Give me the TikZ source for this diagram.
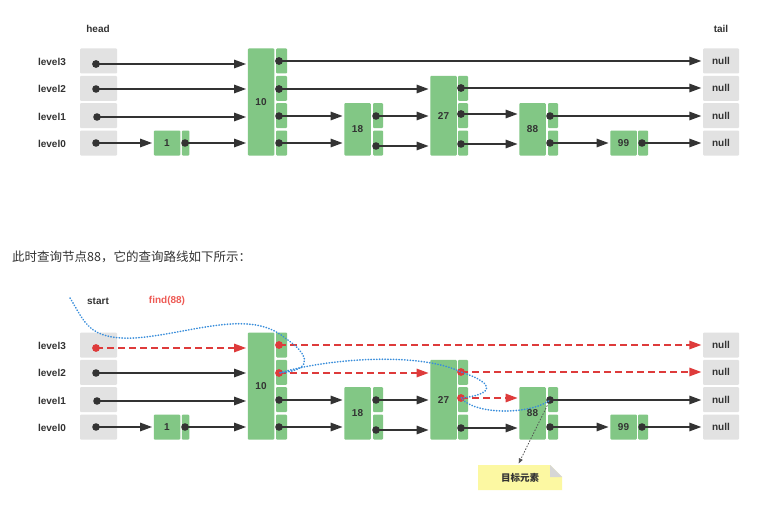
\documentclass[tikz,border=0pt]{standalone}
\usepackage{fontspec}
\setmainfont{Liberation Sans}
\newfontfamily\cjk{Noto Sans CJK SC}
\usetikzlibrary{arrows.meta}
\definecolor{grn}{HTML}{82C785}
\definecolor{gry}{HTML}{E2E2E2}
\definecolor{ink}{HTML}{333333}
\definecolor{redA}{HTML}{DE3B3B}
\definecolor{redT}{HTML}{EE5B55}
\definecolor{bluA}{HTML}{3A8EDB}
\definecolor{yelA}{HTML}{FCF8A2}
\definecolor{foldA}{HTML}{D6D6D6}
\tikzset{
  x=1pt, y=-1pt,
  base/.style={inner sep=0pt, rounded corners=1pt, font=\bfseries\fontsize{10}{12}\selectfont, text=ink},
  hdbox/.style={base, fill=gry, minimum width=37pt, minimum height=25pt},
  nullbox/.style={base, fill=gry, minimum width=36pt, minimum height=25pt},
  mainbox/.style={base, fill=grn, minimum width=26.5pt},
  sidebox/.style={base, fill=grn, minimum height=25pt},
  lvl/.style={font=\bfseries\fontsize{10}{12}\selectfont, text=ink, inner sep=0pt},
  tip/.style={-{Triangle[length=12pt,width=8.5pt]}},
  blackptr/.style={draw=ink, line width=1.5pt, tip, shorten >=1.5pt},
  redptr/.style={draw=redA, line width=1.5pt, dash pattern=on 7pt off 4pt, tip, shorten >=1.5pt},
  blackdot/.style={fill=ink},
  reddot/.style={fill=redA},
}
% rows: r3=61, r2=88.3, r1=115.7, r0=143
\newcommand\skiplist{%
  \node[lvl] (l3) at (52,62) {level3};
  \node[lvl] (l2) at (52,89) {level2};
  \node[lvl] (l1) at (52,117) {level1};
  \node[lvl] (l0) at (52,144) {level0};
  \node[hdbox] (hb3) at (98.5,61) {};
  \node[hdbox] (hb2) at (98.5,88.3) {};
  \node[hdbox] (hb1) at (98.5,115.7) {};
  \node[hdbox] (hb0) at (98.5,143) {};
  \node[nullbox] (n3) at (721,61) {null};
  \node[nullbox] (n2) at (721,88.3) {null};
  \node[nullbox] (n1) at (721,115.7) {null};
  \node[nullbox] (n0) at (721,143) {null};
  % node 1
  \node[mainbox, minimum height=25pt] (v1) at (167,143) {1};
  \node[sidebox, minimum width=7.5pt] (s1-0) at (185.5,143) {};
  % node 10
  \node[mainbox, minimum height=107pt] (v10) at (261,102) {10};
  \node[sidebox, minimum width=11pt] (s10-3) at (281.5,61) {};
  \node[sidebox, minimum width=11pt] (s10-2) at (281.5,88.3) {};
  \node[sidebox, minimum width=11pt] (s10-1) at (281.5,115.7) {};
  \node[sidebox, minimum width=11pt] (s10-0) at (281.5,143) {};
  % node 18
  \node[mainbox, minimum height=52.3pt] (v18) at (357.5,129.35) {18};
  \node[sidebox, minimum width=10pt] (s18-1) at (378,115.7) {};
  \node[sidebox, minimum width=10pt] (s18-0) at (378,143) {};
  % node 27
  \node[mainbox, minimum height=79.7pt] (v27) at (443.5,115.65) {27};
  \node[sidebox, minimum width=10pt] (s27-2) at (463,88.3) {};
  \node[sidebox, minimum width=10pt] (s27-1) at (463,115.7) {};
  \node[sidebox, minimum width=10pt] (s27-0) at (463,143) {};
  % node 88
  \node[mainbox, minimum height=52.3pt] (v88) at (532.5,129.35) {88};
  \node[sidebox, minimum width=10pt] (s88-1) at (553,115.7) {};
  \node[sidebox, minimum width=10pt] (s88-0) at (553,143) {};
  % node 99
  \node[mainbox, minimum height=25pt] (v99) at (623.5,143) {99};
  \node[sidebox, minimum width=10pt] (s99-0) at (643,143) {};
  % pointer origins
  \coordinate (h3) at (96,64);
  \coordinate (h2) at (96,89);
  \coordinate (h1) at (97,117);
  \coordinate (h0) at (96,143);
  \coordinate (p1-0) at (185,143);
  \coordinate (p10-3) at (279,61);
  \coordinate (p10-2) at (279,89);
  \coordinate (p10-1) at (279,116);
  \coordinate (p10-0) at (279,143);
  \coordinate (p18-1) at (376,116);
  \coordinate (p18-0) at (376,146);
  \coordinate (p27-2) at (461,88);
  \coordinate (p27-1) at (461,114);
  \coordinate (p27-0) at (461,144);
  \coordinate (p88-1) at (550,116);
  \coordinate (p88-0) at (550,143);
  \coordinate (p99-0) at (642,143);
}
\newcommand\commonlinks{%
  \draw[blackptr] (h2) -- (v10.west |- h2);
  \draw[blackptr] (h1) -- (v10.west |- h1);
  \draw[blackptr] (h0) -- (v1.west |- h0);
  \draw[blackptr] (p1-0) -- (v10.west |- p1-0);
  \draw[blackptr] (p10-1) -- (v18.west |- p10-1);
  \draw[blackptr] (p10-0) -- (v18.west |- p10-0);
  \draw[blackptr] (p18-1) -- (v27.west |- p18-1);
  \draw[blackptr] (p18-0) -- (v27.west |- p18-0);
  \draw[blackptr] (p27-0) -- (v88.west |- p27-0);
  \draw[blackptr] (p88-1) -- (n1.west |- p88-1);
  \draw[blackptr] (p88-0) -- (v99.west |- p88-0);
  \draw[blackptr] (p99-0) -- (n0.west |- p99-0);
}
\newcommand\pathlinks[1]{%
  \draw[#1] (h3) -- (v10.west |- h3);
  \draw[#1] (p10-3) -- (n3.west |- p10-3);
  \draw[#1] (p10-2) -- (v27.west |- p10-2);
  \draw[#1] (p27-2) -- (n2.west |- p27-2);
  \draw[#1] (p27-1) -- (v88.west |- p27-1);
}
\newcommand\commondots{%
  \foreach \d in {h2,h1,h0,p1-0,p10-1,p10-0,p18-1,p18-0,p27-0,p88-1,p88-0,p99-0}
    {\fill[blackdot] (\d) circle (3.8pt);}
}
\newcommand\pathdots[1]{%
  \foreach \d in {h3,p10-3,p10-2,p27-2,p27-1}
    {\fill[#1] (\d) circle (3.9pt);}
}
\begin{document}
\begin{tikzpicture}
  \fill[white] (0,0) rectangle (782,511);
  \useasboundingbox (0,0) rectangle (782,511);
  % top diagram
  \node[lvl] (headlbl) at (98,29) {head};
  \node[lvl] (taillbl) at (721,29) {tail};
  \begin{scope}[name prefix=a-]
    \skiplist
    \commonlinks
    \pathlinks{blackptr}
    \commondots
    \pathdots{blackdot}
  \end{scope}
  % sentence
  \node[anchor=west, inner sep=0pt, text=ink, font=\cjk\fontsize{12.5}{14}\selectfont] (sent) at (12,257) {此时查询节点88，它的查询路线如下所示：};
  % bottom diagram
  \node[lvl] (startlbl) at (98,301) {start};
  \node[lvl, text=redT] (findlbl) at (167,301) {find(88)};
  \begin{scope}[yshift=-284pt, name prefix=b-]
    \skiplist
    \commonlinks
    \pathlinks{redptr}
    \commondots
    \pathdots{reddot}
  \end{scope}
  % search route
  \coordinate (st) at (70,298);
  \draw[bluA, line width=1.6pt, dash pattern=on 0.4pt off 2.4pt, line cap=round]
    (st) .. controls (85,322) and (88,340) .. (135,338)
         .. controls (190,334) and (250,308) .. (285,338)
         .. controls (306,352) and (318,370) .. (b-p10-2)
         .. controls (330,358) and (420,352) .. (b-p27-2)
         .. controls (500,385) and (490,395) .. (b-p27-1)
         .. controls (475,415) and (530,415) .. (b-p88-1);
  % callout
  \fill[yelA] (478,465) -- (550,465) -- (562,477) -- (562,490) -- (478,490) -- cycle;
  \fill[foldA] (550,465) -- (562,477) -- (550,477) -- cycle;
  \node[inner sep=0pt, minimum width=84pt, minimum height=25pt, text=ink, font=\cjk\bfseries\fontsize{9.5}{11}\selectfont] (cal) at (520,477.5) {目标元素};
  \draw[ink!85, line width=0.8pt, dash pattern=on 1.5pt off 1.5pt, -{Triangle[length=5pt,width=4pt]}, shorten >=1.5pt] (b-p88-1) -- ([xshift=-2pt]cal.north);
\end{tikzpicture}
\end{document}
